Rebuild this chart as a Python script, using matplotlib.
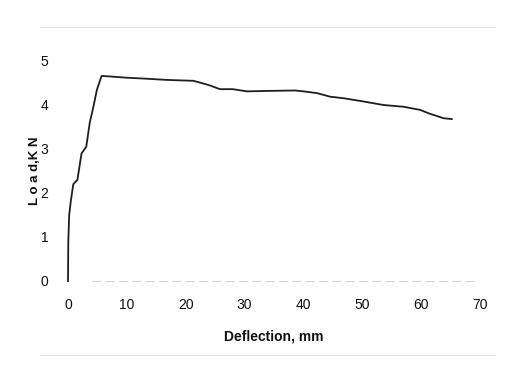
import matplotlib
matplotlib.use("Agg")
import matplotlib.pyplot as plt
from matplotlib.lines import Line2D

# load-deflection curve
deflection = [0.0, 0.05, 0.2, 0.5, 0.9, 1.6, 2.3, 3.1, 3.7, 4.3, 4.9, 5.7,
              7.0, 10.0, 13.0, 16.8, 21.3, 22.4, 24.0, 25.8, 28.0, 30.4,
              34.0, 38.6, 40.0, 42.3, 44.5, 47.0, 50.2, 53.6, 57.0, 59.8,
              61.5, 63.8, 65.2]
load = [0.0, 0.9, 1.5, 1.84, 2.2, 2.3, 2.9, 3.05, 3.6, 3.95, 4.34, 4.66,
        4.65, 4.62, 4.6, 4.57, 4.55, 4.51, 4.45, 4.36, 4.36, 4.31,
        4.32, 4.33, 4.31, 4.27, 4.19, 4.15, 4.08, 4.0, 3.96, 3.89,
        3.8, 3.7, 3.68]

x_ticks = [0, 10, 20, 30, 40, 50, 60, 70]
y_ticks = [0, 1, 2, 3, 4, 5]

FONT = ["Liberation Sans Narrow", "Liberation Sans", "DejaVu Sans"]

fig = plt.figure(figsize=(5.24, 3.71), dpi=100)
ax = fig.add_axes([68 / 524, 1 - 281 / 371, (480 - 68) / 524, (281 - 61) / 371])

ax.plot(deflection, load, color="#1e1e1e", lw=1.3, clip_on=False)

ax.set_xlim(0, 70)
ax.set_ylim(0, 5)
ax.set_xticks(x_ticks)
ax.set_yticks(y_ticks)
for s in ax.spines.values():
    s.set_visible(False)
ax.tick_params(length=0, labelsize=10, pad=14)
ax.tick_params(axis="x", pad=12)
for lab in ax.get_xticklabels() + ax.get_yticklabels():
    lab.set_family(FONT)
    lab.set_color("#111111")

# faint x axis line as on the scan
ax.plot([4, 69], [0, 0], color="#d4d4d4", lw=0.8, ls=(0, (8, 4)), clip_on=False)

ax.set_xlabel("Deflection, mm", family=FONT, fontsize=10, fontweight="bold",
              color="#111111", labelpad=13)
ax.set_ylabel("L o a d,K N", family=FONT, fontsize=9.5, fontweight="bold",
              color="#111111", labelpad=0)

# faint page rules from the scan
fig.add_artist(Line2D([40 / 524, 495 / 524], [1 - 27 / 371, 1 - 27 / 371],
                      color="#e0e0e0", lw=0.8))
fig.add_artist(Line2D([40 / 524, 495 / 524], [1 - 355 / 371, 1 - 355 / 371],
                      color="#e0e0e0", lw=0.8))

fig.savefig("out.png", dpi=100)
